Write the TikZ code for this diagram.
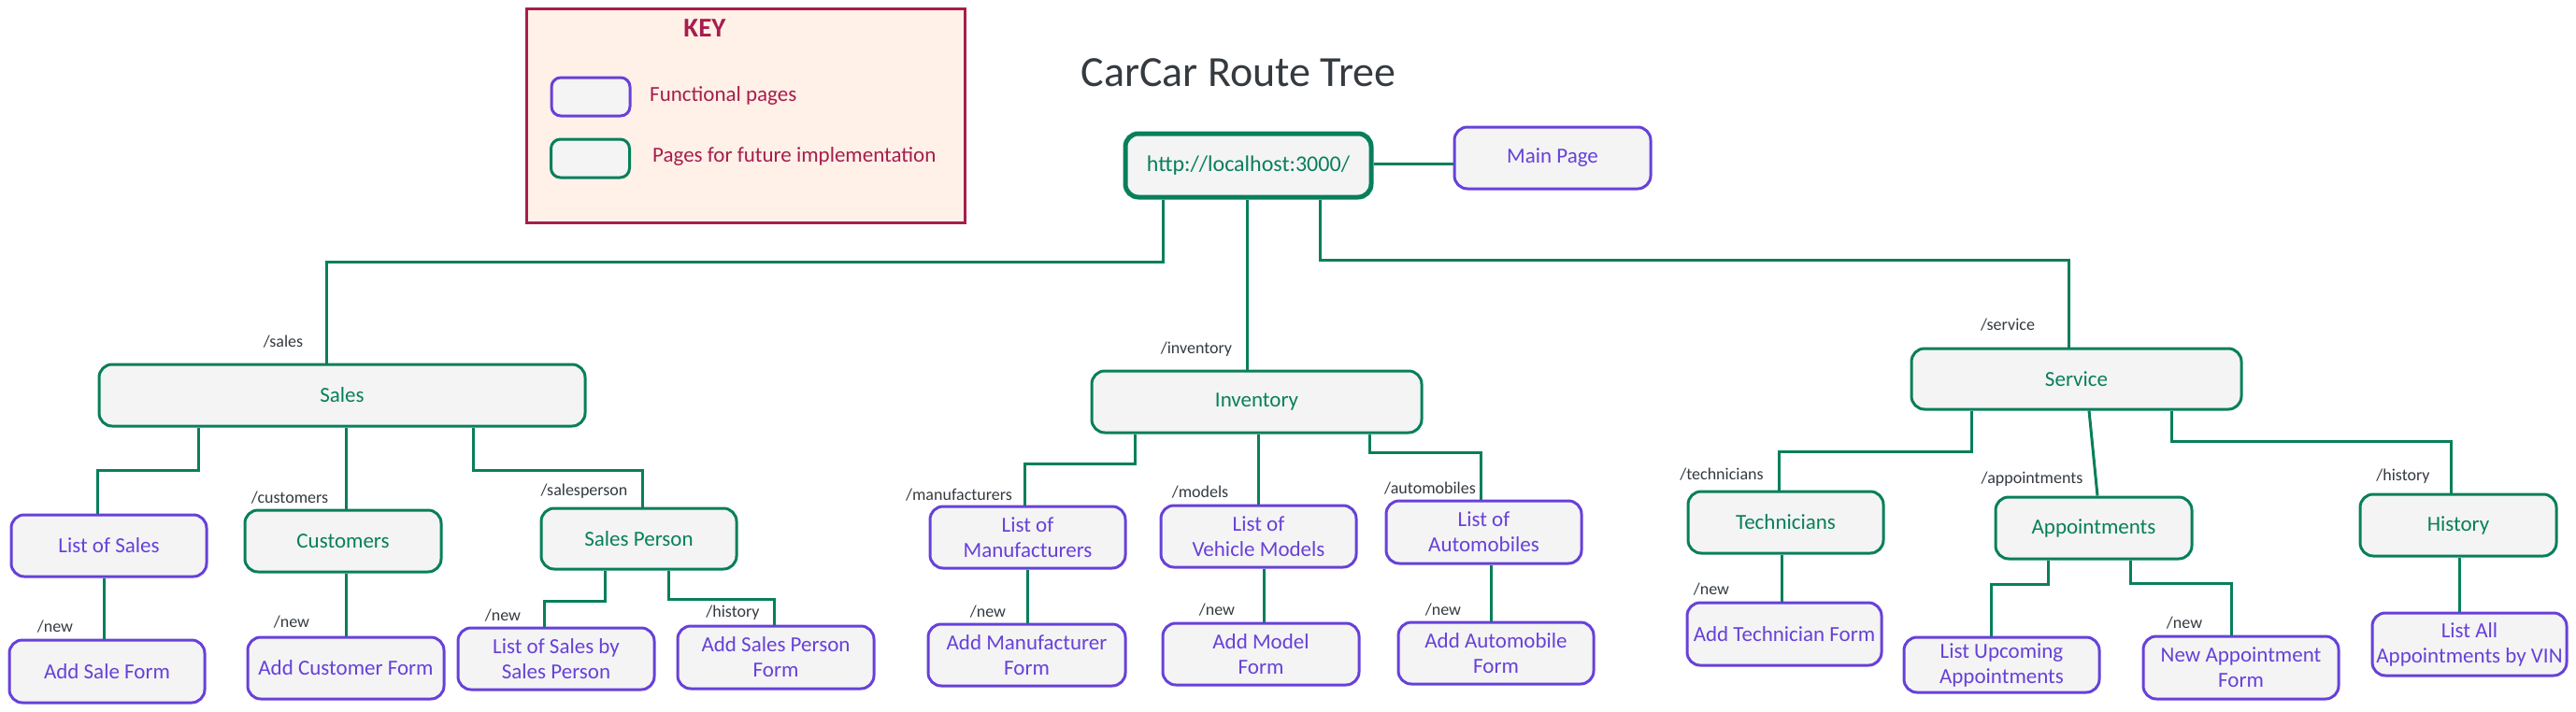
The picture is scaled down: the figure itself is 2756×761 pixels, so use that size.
\documentclass[tikz,border=0pt]{standalone}
\usepackage{fontspec}
\setmainfont{Carlito}
\definecolor{grn}{HTML}{087F5B}
\definecolor{vio}{HTML}{6741D9}
\definecolor{crim}{HTML}{A61E4D}
\definecolor{lbl}{HTML}{343A40}
\definecolor{boxfill}{HTML}{F4F4F4}
\definecolor{keyfill}{HTML}{FFF0E8}
\tikzset{
  box/.style={draw, rounded corners=14pt, fill=boxfill, line width=3pt, align=center, inner sep=0pt, font=\fontsize{23}{27}\selectfont},
  fpage/.style={box, draw=vio, text=vio},
  gpage/.style={box, draw=grn, text=grn},
  sz/.style 2 args={minimum width=#1pt, minimum height=#2pt},
  conn/.style={draw=grn, line width=3pt},
  route/.style={text=lbl, font=\fontsize{18}{20}\selectfont, inner sep=0pt},
  keytext/.style={text=crim, font=\fontsize{23}{27}\selectfont, anchor=west, inner sep=0pt},
}
\begin{document}
\begin{tikzpicture}[x=1pt,y=-1pt]
\path[use as bounding box] (0,0) rectangle (2756,761);

% Key
\node[draw=crim, fill=keyfill, line width=3pt, minimum width=469pt, minimum height=229pt, inner sep=0pt] (key) at (797.5,124) {};
\node[text=crim, font=\bfseries\fontsize{29}{32}\selectfont, inner sep=0pt] (keytitle) at (754,30) {KEY};
\node[fpage, sz={84}{41}, rounded corners=10pt] (kf) at (632,103.5) {};
\node[gpage, sz={84}{41}, rounded corners=10pt] (kg) at (631.5,169.5) {};
\node[keytext] (kft) at (695,102) {Functional pages};
\node[keytext] (kgt) at (698,167) {Pages for future implementation};

% Title
\node[text=lbl, font=\fontsize{46}{50}\selectfont, inner sep=0pt] (title) at (1325,78) {CarCar Route Tree};

% Root
\node[gpage, sz={263}{68}, line width=5pt, font=\fontsize{24}{28}\selectfont] (root) at (1335.5,177) {http://localhost:3000/};
\node[fpage, sz={210}{66}] (main) at (1661,169) {Main Page};

% Level 1
\node[gpage, sz={520}{66}] (sales) at (366,423) {Sales};
\node[gpage, sz={353}{66}] (inv) at (1344.5,430) {Inventory};
\node[gpage, sz={353}{65}] (serv) at (2221.5,405.5) {Service};

% Sales subtree
\node[fpage, sz={209}{66}] (los) at (116.5,584) {List of Sales};
\node[gpage, sz={210}{66}] (cust) at (367,579) {Customers};
\node[gpage, sz={209}{65}] (sp) at (683.5,576.5) {Sales Person};
\node[fpage, sz={209}{67}] (addsale) at (114.5,718.5) {Add Sale Form};
\node[fpage, sz={210}{66}] (addcust) at (370,715) {Add Customer Form};
\node[fpage, sz={210}{66}] (losbysp) at (595,705) {List of Sales by\\Sales Person};
\node[fpage, sz={210}{67}] (addsp) at (830,703.5) {Add Sales Person\\Form};

% Inventory subtree
\node[fpage, sz={209}{66}] (lom) at (1099.5,575) {List of\\Manufacturers};
\node[fpage, sz={209}{66}] (lovm) at (1346.5,574) {List of\\Vehicle Models};
\node[fpage, sz={209}{67}] (loa) at (1587.5,569.5) {List of\\Automobiles};
\node[fpage, sz={211}{66}] (addman) at (1098.5,701) {Add Manufacturer\\Form};
\node[fpage, sz={210}{66}] (addmod) at (1349,700) {Add Model\\Form};
\node[fpage, sz={209}{66}] (addauto) at (1600.5,699) {Add Automobile\\Form};

% Service subtree
\node[gpage, sz={209}{66}] (tech) at (1910.5,559) {Technicians};
\node[gpage, sz={210}{66}] (appt) at (2240,565) {Appointments};
\node[gpage, sz={210}{66}] (hist) at (2630,562) {History};
\node[fpage, sz={208}{67}] (addtech) at (1909,678.5) {Add Technician Form};
\node[fpage, sz={209}{59}] (listup) at (2141.5,711.5) {List Upcoming\\Appointments};
\node[fpage, sz={209}{67}] (newappt) at (2397.5,714.5) {New Appointment\\Form};
\node[fpage, sz={208}{67}] (listall) at (2642,689.5) {List All\\Appointments by VIN};

% Connectors
\draw[conn] (root.south -| 1244,0) |- (349,280) -- (sales.north -| 349,0);
\draw[conn] (root.south -| 1334,0) -- (inv.north -| 1334,0);
\draw[conn] (root.south -| 1412,0) |- (2213,278) -- (serv.north -| 2213,0);
\draw[conn] (root.east |- 0,175) -- (main.west |- 0,175);

\draw[conn] (sales.south -| 212,0) |- (104,503) -- (los.north -| 104,0);
\draw[conn] (sales.south -| 370,0) -- (cust.north -| 370,0);
\draw[conn] (sales.south -| 506,0) |- (687,503) -- (sp.north -| 687,0);
\draw[conn] (los.south -| 111,0) -- (addsale.north -| 111,0);
\draw[conn] (cust.south -| 370,0) -- (addcust.north -| 370,0);
\draw[conn] (sp.south -| 647,0) |- (582,643) -- (losbysp.north -| 582,0);
\draw[conn] (sp.south -| 715,0) |- (828,641) -- (addsp.north -| 828,0);

\draw[conn] (inv.south -| 1214,0) |- (1096,496) -- (lom.north -| 1096,0);
\draw[conn] (inv.south -| 1346,0) -- (lovm.north -| 1346,0);
\draw[conn] (inv.south -| 1465,0) |- (1584,484) -- (loa.north -| 1584,0);
\draw[conn] (lom.south -| 1099,0) -- (addman.north -| 1099,0);
\draw[conn] (lovm.south -| 1352,0) -- (addmod.north -| 1352,0);
\draw[conn] (loa.south -| 1595,0) -- (addauto.north -| 1595,0);

\draw[conn] (serv.south -| 2109,0) |- (1903,483) -- (tech.north -| 1903,0);
\draw[conn] (serv.south -| 2235,0) -- (appt.north -| 2244,0);
\draw[conn] (serv.south -| 2323,0) |- (2622,472) -- (hist.north -| 2622,0);
\draw[conn] (tech.south -| 1906,0) -- (addtech.north -| 1906,0);
\draw[conn] (appt.south -| 2191,0) |- (2130,625) -- (listup.north -| 2130,0);
\draw[conn] (appt.south -| 2279,0) |- (2387,624) -- (newappt.north -| 2387,0);
\draw[conn] (hist.south -| 2631,0) -- (listall.north -| 2631,0);

% Route labels
\node[route] (l1) at (303,366) {/sales};
\node[route] (l2) at (1280,374) {/inventory};
\node[route] (l3) at (2148,348) {/service};
\node[route] (l4) at (310,533) {/customers};
\node[route] (l5) at (625,526) {/salesperson};
\node[route] (l6) at (59,671) {/new};
\node[route] (l7) at (312,666) {/new};
\node[route] (l8) at (538,659) {/new};
\node[route] (l9) at (784,656) {/history};
\node[route] (l10) at (1026,530) {/manufacturers};
\node[route] (l11) at (1284,527) {/models};
\node[route] (l12) at (1530,523) {/automobiles};
\node[route] (l13) at (1057,655) {/new};
\node[route] (l14) at (1302,653) {/new};
\node[route] (l15) at (1544,653) {/new};
\node[route] (l16) at (1842,508) {/technicians};
\node[route] (l17) at (2174,513) {/appointments};
\node[route] (l18) at (2571,510) {/history};
\node[route] (l19) at (1831,631) {/new};
\node[route] (l20) at (2337,667) {/new};
\end{tikzpicture}
\end{document}
